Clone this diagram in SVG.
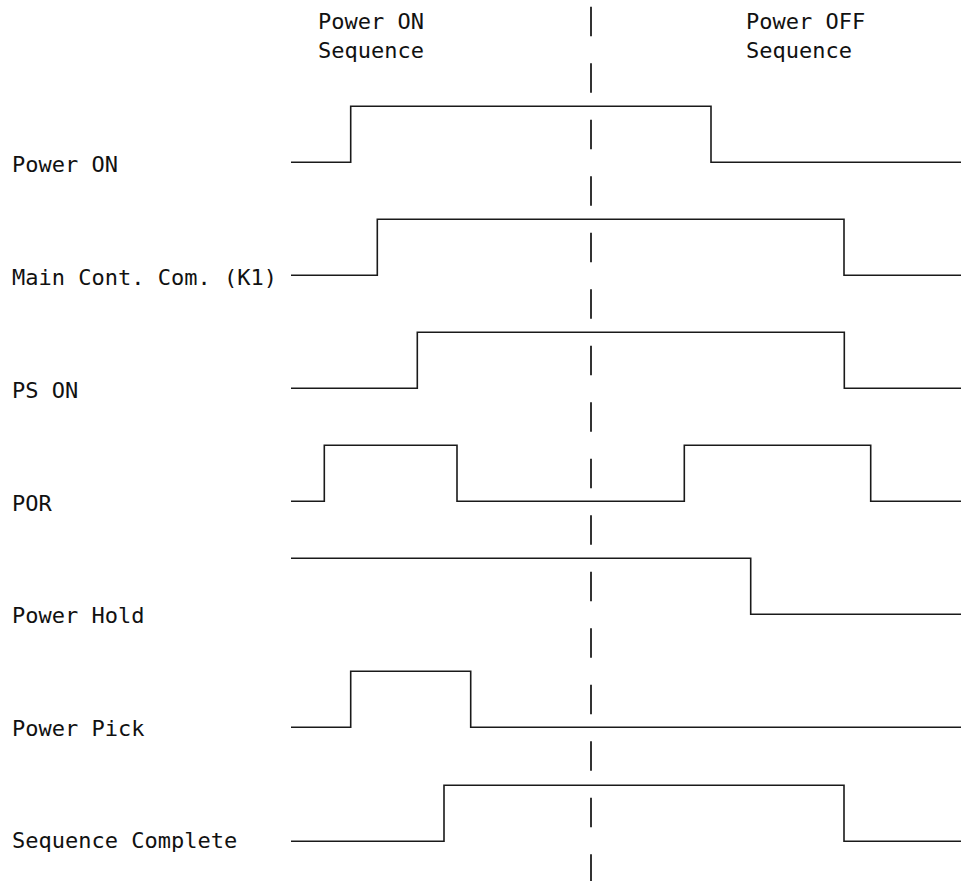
<svg xmlns="http://www.w3.org/2000/svg" width="961" height="881" viewBox="0 0 961 881">
<style>
text{font-family:"DejaVu Sans Mono","Liberation Mono",monospace;font-size:22px;fill:#111}
.sig{fill:none;stroke:#1a1a1a;stroke-width:1.6}
.div{stroke:#333;stroke-width:2;stroke-dasharray:29.5 27}
</style>
<rect width="961" height="881" fill="#fff"/>
<g id="header">
<text x="318" y="29.3">Power ON</text>
<text x="318" y="58.3">Sequence</text>
<text x="746" y="29.3">Power OFF</text>
<text x="746" y="58.3">Sequence</text>
</g>
<g id="connectors">
<line class="div" x1="591" y1="6.7" x2="591" y2="881"/>
</g>
<g id="power-on">
<text x="12" y="171.5">Power ON</text>
<path class="sig" d="M291 162.3H350.7V106.3H711V162.3H961"/>
</g>
<g id="main-cont">
<text x="12" y="284.5">Main Cont. Com. (K1)</text>
<path class="sig" d="M291 275.3H377.3V219.3H844V275.3H961"/>
</g>
<g id="ps-on">
<text x="12" y="397.5">PS ON</text>
<path class="sig" d="M291 388.3H417.3V332.3H844.3V388.3H961"/>
</g>
<g id="por">
<text x="12" y="510.5">POR</text>
<path class="sig" d="M291 501.3H324.3V445.3H457V501.3H684.3V445.3H870.7V501.3H961"/>
</g>
<g id="power-hold">
<text x="12" y="623">Power Hold</text>
<path class="sig" d="M291 558.3H750.7V614.3H961"/>
</g>
<g id="power-pick">
<text x="12" y="735.7">Power Pick</text>
<path class="sig" d="M291 727.3H350.7V671.3H470.7V727.3H961"/>
</g>
<g id="sequence-complete">
<text x="12" y="848.3">Sequence Complete</text>
<path class="sig" d="M291 841.3H444V785.3H844V841.3H961"/>
</g>
</svg>
